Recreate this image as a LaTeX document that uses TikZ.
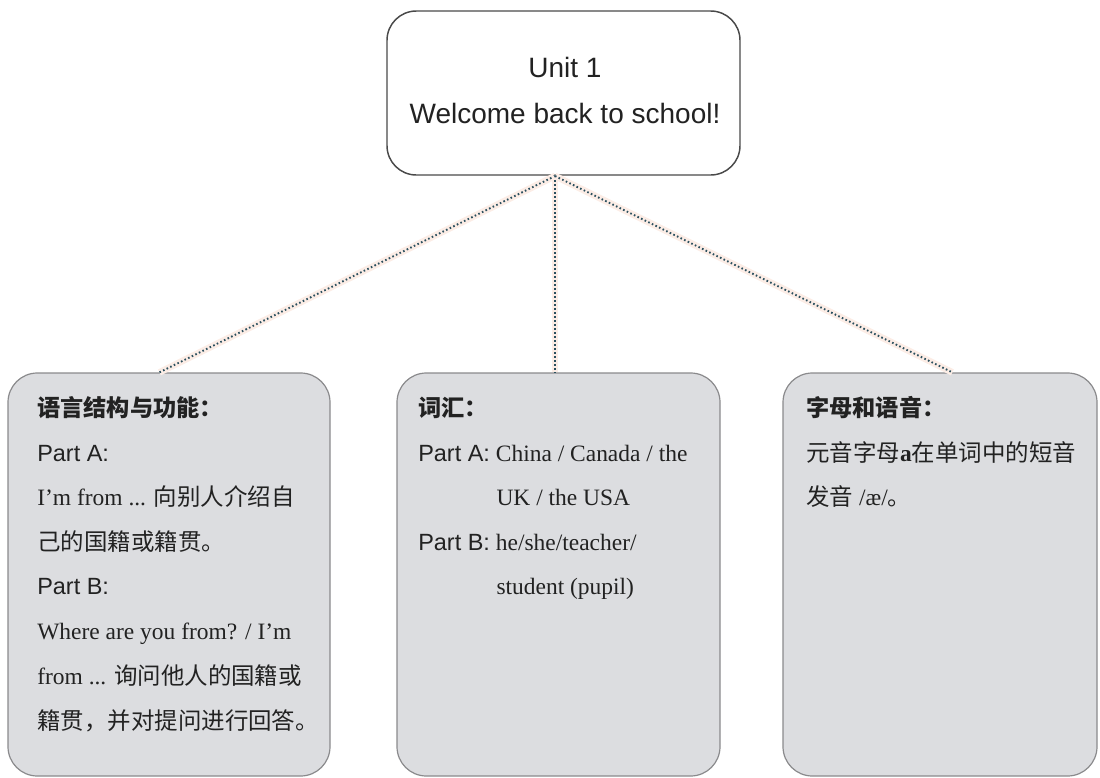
\documentclass[tikz,border=0pt]{standalone}
\usepackage{fontspec}
\setmainfont{Liberation Serif}
\setsansfont{Liberation Sans}
\newfontfamily\cjk{Noto Sans CJK SC}
\usetikzlibrary{calc}
\definecolor{boxfill}{HTML}{DCDDE0}
\definecolor{boxline}{HTML}{8A8A8C}
\definecolor{topline}{HTML}{4A4A4A}
\definecolor{conncol}{HTML}{2A4F5E}
\definecolor{halo}{HTML}{FCEDE6}
\definecolor{txt}{HTML}{222222}
\tikzset{
  topbox/.style={draw=topline, line width=1.1pt, fill=white, rounded corners=22pt, inner sep=0pt},
  subbox/.style={draw=boxline, line width=0.9pt, fill=boxfill, rounded corners=22pt, inner sep=0pt},
  conn/.style={draw=conncol, line width=1.4pt, dash pattern=on 1.2pt off 1.8pt,
    preaction={draw=halo, line width=5pt, solid}},
  ln/.style={anchor=base west, inner sep=0pt, text=txt, font=\fontsize{17.6}{20}\selectfont},
  head/.style={ln, font=\fontsize{17.4}{20}\selectfont\cjk\bfseries},
  title/.style={anchor=base, inner sep=0pt, text=txt, font=\fontsize{21}{24}\selectfont\sffamily}
}
\begin{document}
\begin{tikzpicture}[x=0.75pt,y=-0.75pt]
\useasboundingbox (0,0) rectangle (1100,778);
% boxes
\node[topbox, minimum width=353*0.75pt, minimum height=164*0.75pt] (T) at (563.5,93) {};
\node[subbox, minimum width=322*0.75pt, minimum height=403*0.75pt] (L) at (169,574.5) {};
\node[subbox, minimum width=323*0.75pt, minimum height=403*0.75pt] (M) at (558.5,574.5) {};
\node[subbox, minimum width=314*0.75pt, minimum height=403*0.75pt] (R) at (940,574.5) {};
% connectors
\coordinate (hub) at (555,176);
\draw[conn] (hub) -- ([xshift=152*0.75pt]L.north west);
\draw[conn] (hub) -- (hub |- M.north);
\draw[conn] (hub) -- ([xshift=170*0.75pt]R.north west);
% title
\node[title] (t1) at (565,77) {Unit 1};
\node[title] (t2) at (565,123) {Welcome back to school!};
% left box
\node[head] (l1) at (37,416) {语言结构与功能：};
\node[ln] (l2) at (37,461) {\sffamily Part A:};
\node[ln] (l3) at (37,505) {I’m from ... {\cjk 向别人介绍自}};
\node[ln] (l4) at (37,550) {\cjk 己的国籍或籍贯。};
\node[ln] (l5) at (37,594) {\sffamily Part B:};
\node[ln] (l6) at (37,639) {Where are you from? / I’m};
\node[ln] (l7) at (37,684) {from ... {\cjk 询问他人的国籍或}};
\node[ln] (l8) at (37,729) {\cjk 籍贯，并对提问进行回答。};
% middle box
\node[head] (m1) at (418,416) {词汇：};
\node[ln] (m2) at (418,461) {{\sffamily Part A:} China / Canada / the};
\node[ln] (m3) at (418,505) {\phantom{\sffamily Part A: }UK / the USA};
\node[ln] (m4) at (418,550) {{\sffamily Part B:} he/she/teacher/};
\node[ln] (m5) at (418,594) {\phantom{\sffamily Part A: }student (pupil)};
% right box
\node[head] (r1) at (806,416) {字母和语音：};
\node[ln] (r2) at (806,461) {{\cjk 元音字母}\textbf{a}{\cjk 在单词中的短音}};
\node[ln] (r3) at (806,505) {{\cjk 发音} /æ/{\cjk 。}};
\end{tikzpicture}
\end{document}
